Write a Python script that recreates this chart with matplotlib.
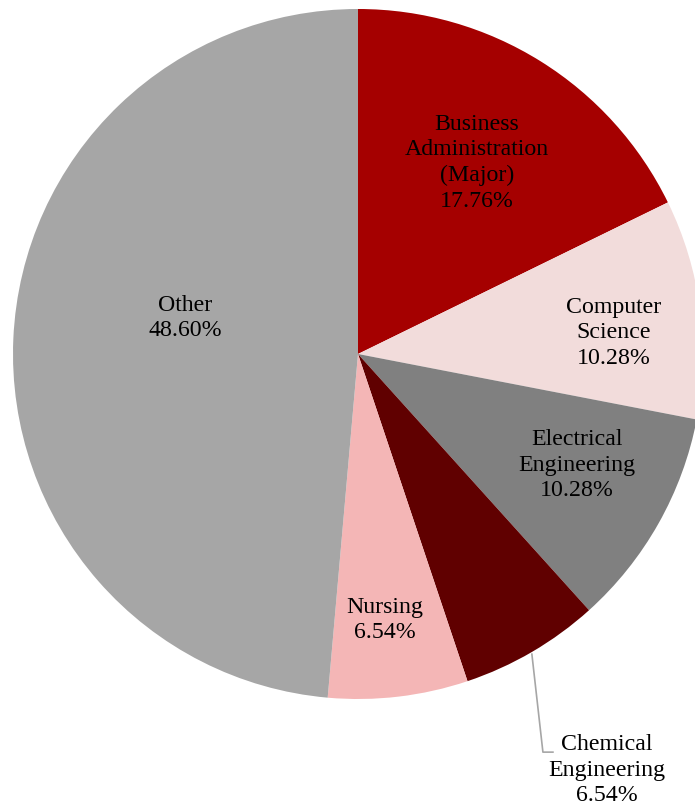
import matplotlib.pyplot as plt

majors = ["Business\nAdministration\n(Major)", "Computer\nScience", "Electrical\nEngineering",
          "Chemical\nEngineering", "Nursing", "Other"]
shares = [17.76, 10.28, 10.28, 6.54, 6.54, 48.60]
colors = ["#A50000", "#F2DCDB", "#808080", "#600000", "#F4B6B6", "#A6A6A6"]

# label spots in pie units (radius 1)
label_pos = [(0.345, 0.557), (0.742, 0.064), (0.635, -0.319),
             (0.722, -1.203), (0.078, -0.768), (-0.501, 0.107)]

if __name__ == "__main__":
    fig = plt.figure(figsize=(6.95, 8.12), dpi=100)
    ax = fig.add_axes([0, 0, 1, 1])

    ax.pie(shares, colors=colors, startangle=90, counterclock=False,
           radius=1.0, wedgeprops={"linewidth": 0})

    for name, val, (x, y) in zip(majors, shares, label_pos):
        ax.text(x, y, f"{name}\n{val:.2f}%", ha="center", va="center",
                family="Liberation Serif", fontsize=17.2, linespacing=1.3,
                color="black")

    # leader line for the small slice
    ax.plot([0.504, 0.536, 0.565], [-0.870, -1.154, -1.154],
            color="#A6A6A6", linewidth=1.2)

    ax.set_aspect("auto")
    ax.set_xlim(-358 / 345, 337 / 345)
    ax.set_ylim(-457 / 345, 355 / 345)
    ax.axis("off")

    fig.savefig("out.png", dpi=100)
